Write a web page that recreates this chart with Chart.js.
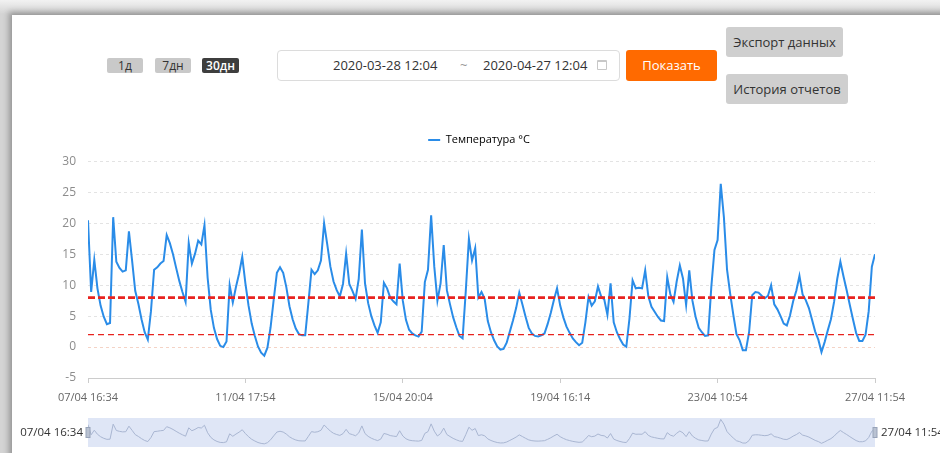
<!doctype html>
<html>
<head>
<meta charset="utf-8">
<title>Температура</title>
<script src="https://cdn.jsdelivr.net/npm/chart.js@4.4.1/dist/chart.umd.min.js"></script>
<style>
	html, body { margin: 0; padding: 0; }
	body {
		width: 940px; height: 453px; overflow: hidden; position: relative;
		background: linear-gradient(to bottom, #f2f2f2 0, #d4d4d4 14px);
		font-family: "Open Sans", "Noto Sans", sans-serif;
	}
	.panel {
		position: absolute; left: 12px; top: 15px; width: 960px; height: 460px;
		background: #fff; box-shadow: -3px -3px 6px rgba(0, 0, 0, 0.3);
	}
	.abs { position: absolute; box-sizing: border-box; }
	.tag {
		top: 58px; height: 15px; line-height: 15px; font-size: 12px; text-align: center;
		background: #c9c9c9; color: #333; border-radius: 2px;
	}
	.tag.on { background: #3e3e3e; color: #fff; font-weight: 600; }
	.range {
		left: 277px; top: 50px; width: 343px; height: 31px;
		border: 1px solid #dcdcdc; border-radius: 4px; background: #fff;
	}
	.dt { top: 56px; font-size: 13px; line-height: 18px; color: #333; }
	.btn {
		height: 31px; line-height: 30px; font-size: 13px; text-align: center; border-radius: 3px;
	}
	.gray { background: #cfcfcf; color: #333; }
	.cal {
		left: 597px; top: 60px; width: 10px; height: 10px;
		border: 1px solid #c8c8c8; border-top-width: 2px; border-radius: 1px;
	}
</style>
</head>
<body>
	<div class="panel"></div>

	<div class="abs tag" style="left:107px;width:36px">1д</div>
	<div class="abs tag" style="left:155px;width:36px">7дн</div>
	<div class="abs tag on" style="left:202px;width:37px">30дн</div>

	<div class="abs range"></div>
	<div class="abs dt" style="left:333px">2020-03-28 12:04</div>
	<div class="abs dt" style="left:460px;color:#999">~</div>
	<div class="abs dt" style="left:483px">2020-04-27 12:04</div>
	<div class="abs cal"></div>

	<div class="abs btn" style="left:626px;top:50px;width:91px;background:#ff6a00;color:#fff">Показать</div>
	<div class="abs btn gray" style="left:726px;top:27px;width:117px;height:30px">Экспорт данных</div>
	<div class="abs btn gray" style="left:726px;top:74px;width:122px;height:30px">История отчетов</div>

	<canvas id="chart" class="abs" width="940" height="290" style="left:0;top:120px"></canvas>
	<canvas id="zoom" class="abs" width="940" height="41" style="left:0;top:412px"></canvas>

	<script>
		// temperature readings, evenly spaced samples
		const temps = [
			20.5, 8.9, 14.1, 9.5, 6.7, 4.9, 3.7, 3.9, 21.0, 13.8,
			12.8, 12.2, 12.4, 18.7, 14.0, 9.1, 7.0, 4.5, 2.4, 1.2,
			5.8, 12.5, 12.9, 13.5, 13.9, 18.1, 16.8, 15.0, 12.8, 10.7,
			8.9, 7.3, 16.8, 13.5, 15.1, 17.2, 16.6, 19.7, 11.2, 6.0,
			3.1, 1.3, 0.2, 0.0, 0.9, 10.0, 7.2, 9.7, 11.9, 14.6,
			10.3, 6.7, 3.8, 1.8, 0.1, -0.9, -1.4, -0.1, 3.2, 7.7,
			12.0, 12.9, 12.0, 9.7, 6.6, 4.5, 3.0, 2.1, 1.9, 1.9,
			7.1, 12.5, 11.8, 12.4, 14.0, 20.0, 16.6, 13.0, 10.6, 9.2,
			8.2, 10.2, 15.1, 10.2, 9.1, 7.8, 11.0, 19.0, 10.3, 7.1,
			5.0, 3.5, 2.3, 4.0, 10.4, 9.5, 8.0, 7.4, 6.9, 13.5,
			7.5, 4.4, 2.8, 2.2, 1.9, 1.7, 2.5, 10.5, 12.5, 21.3,
			13.0, 7.5, 10.3, 16.5, 9.2, 6.9, 4.8, 3.2, 1.8, 1.4,
			9.0, 17.5, 14.0, 16.0, 8.0, 8.9, 7.8, 4.2, 2.4, 1.1,
			0.1, -0.4, -0.3, 0.7, 2.5, 4.3, 6.3, 8.8, 6.9, 4.9,
			3.1, 2.2, 1.8, 1.7, 1.9, 2.2, 3.7, 5.5, 7.6, 9.5,
			6.7, 4.8, 3.3, 2.3, 1.4, 0.8, 0.3, 0.7, 4.0, 8.1,
			6.7, 7.4, 9.8, 8.2, 7.7, 5.2, 10.3, 4.0, 2.4, 1.3,
			0.4, 0.05, 4.6, 10.8, 9.5, 9.6, 9.5, 12.4, 8.2, 6.5,
			5.7, 4.9, 4.3, 4.2, 11.3, 8.5, 7.3, 10.6, 13.2, 11.1,
			6.8, 12.4, 7.5, 4.9, 3.1, 2.4, 1.8, 1.9, 9.7, 15.7,
			17.3, 26.4, 21.0, 12.5, 8.6, 5.2, 2.1, 1.1, -0.5, -0.5,
			2.4, 8.4, 8.9, 8.8, 8.3, 7.9, 8.3, 10.0, 6.9, 6.1,
			5.0, 3.8, 3.5, 5.1, 7.4, 9.1, 11.5, 8.5, 7.6, 6.3,
			4.4, 2.5, 1.2, -0.8, 0.8, 2.7, 4.5, 7.3, 11.0, 13.8,
			11.4, 9.2, 6.8, 4.5, 2.3, 1.0, 1.0, 2.0, 5.8, 13.0,
			15.0
		];
		const xLabels = ['07/04 16:34', '11/04 17:54', '15/04 20:04', '19/04 16:14', '23/04 10:54', '27/04 11:54'];
		const yTicks = [-5, 0, 5, 10, 15, 20, 25, 30];
		const upperLimit = 8;
		const lowerLimit = 2;
		const seriesName = 'Температура °C';

		const lastIdx = temps.length - 1;
		const labelStep = lastIdx / (xLabels.length - 1);
		const idx = temps.map((v, i) => i);
		const blue = '#2a8ce8';

		Chart.defaults.font.family = '"Open Sans", "Noto Sans", sans-serif';

		// empty axis used only as spacing
		const spacer = (axis, size) => ({
			position: axis === 'x' ? 'top' : 'right',
			display: true,
			grid: { display: false },
			border: { display: false },
			ticks: { display: false },
			afterFit: (scale) => {
				if (axis === 'x') scale.height = size;
				else scale.width = size;
			}
		});

		new Chart(document.getElementById('chart'), {
			type: 'line',
			data: {
				labels: idx,
				datasets: [{
					label: seriesName,
					data: temps,
					borderColor: blue,
					backgroundColor: blue,
					borderWidth: 2,
					pointRadius: 0,
					tension: 0,
					order: 1
				}, {
					label: 'max',
					data: temps.map(() => upperLimit),
					borderColor: '#e8231f',
					borderWidth: 2.6,
					borderDash: [7, 3],
					pointRadius: 0,
					order: 0
				}, {
					label: 'min',
					data: temps.map(() => lowerLimit),
					borderColor: '#e8231f',
					borderWidth: 1.3,
					borderDash: [6, 4],
					pointRadius: 0,
					order: 0
				}]
			},
			options: {
				responsive: false,
				animation: false,
				devicePixelRatio: 1,
				layout: { padding: { left: 58, right: 40, top: 9, bottom: 0 } },
				plugins: {
					tooltip: { enabled: false },
					legend: {
						position: 'top',
						labels: {
							color: '#8a8a8a',
							font: { size: 11 },
							padding: 5.5,
							boxWidth: 12,
							boxHeight: 2,
							generateLabels: () => [{
								text: seriesName,
								fillStyle: blue,
								strokeStyle: blue,
								lineWidth: 0,
								hidden: false,
								datasetIndex: 0
							}]
						}
					}
				},
				scales: {
					x: {
						type: 'linear',
						min: 0,
						max: lastIdx,
						afterFit: (scale) => { scale.height = 32; },
						afterBuildTicks: (scale) => {
							scale.ticks = xLabels.map((t, k) => ({ value: k * labelStep }));
						},
						border: { color: '#cccccc', width: 1 },
						grid: { drawOnChartArea: false, tickLength: 5, color: '#cccccc' },
						ticks: {
							color: '#666',
							font: { size: 11 },
							padding: 8,
							maxRotation: 0,
							autoSkip: false,
							callback: (v) => xLabels[Math.round(v / labelStep)]
						}
					},
					xTop: spacer('x', 6),
					y: {
						min: yTicks[0],
						max: yTicks[yTicks.length - 1],
						afterFit: (scale) => { scale.width = 30; },
						afterBuildTicks: (scale) => {
							scale.ticks = yTicks.map((v) => ({ value: v }));
						},
						border: { display: false, dash: [3, 3] },
						grid: {
							drawTicks: false,
							color: (ctx) => {
								if (ctx.tick.value === yTicks[0]) return 'rgba(0,0,0,0)';
								if (ctx.tick.value === 0) return '#f4d3c6';
								return '#e3e3e3';
							}
						},
						ticks: { color: '#8c8c8c', font: { size: 12 }, padding: 12 }
					},
					yRight: spacer('y', 25)
				}
			}
		});

		// data zoom strip under the chart
		const zoomDecor = {
			id: 'zoomDecor',
			beforeDatasetsDraw(chart) {
				const { ctx, chartArea: a } = chart;
				ctx.save();
				ctx.fillStyle = '#dfe6f6';
				ctx.fillRect(a.left, a.top, a.right - a.left, a.bottom - a.top);
				ctx.restore();
			},
			afterDatasetsDraw(chart) {
				const { ctx, chartArea: a } = chart;
				const mid = (a.top + a.bottom) / 2;
				ctx.save();
				ctx.fillStyle = '#b9c2d2';
				ctx.strokeStyle = '#98a3b8';
				[a.left, a.right].forEach((x) => {
					ctx.fillRect(x - 2, mid - 5, 4, 10);
					ctx.strokeRect(x - 2, mid - 5, 4, 10);
				});
				ctx.fillStyle = '#333';
				ctx.font = '11.5px "Open Sans", "Noto Sans", sans-serif';
				ctx.textBaseline = 'middle';
				ctx.textAlign = 'right';
				ctx.fillText(xLabels[0], a.left - 5, mid);
				ctx.textAlign = 'left';
				ctx.fillText(xLabels[xLabels.length - 1], a.right + 6, mid);
				ctx.restore();
			}
		};

		new Chart(document.getElementById('zoom'), {
			type: 'line',
			data: {
				labels: idx,
				datasets: [{
					data: temps,
					borderColor: '#a9b6d2',
					borderWidth: 1,
					pointRadius: 0,
					tension: 0
				}]
			},
			options: {
				responsive: false,
				animation: false,
				devicePixelRatio: 1,
				layout: { padding: { left: 88, right: 65, top: 6, bottom: 6 } },
				plugins: { legend: { display: false }, tooltip: { enabled: false } },
				scales: {
					x: { type: 'linear', display: false, min: 0, max: lastIdx },
					y: { display: false, min: -5, max: 28 }
				}
			},
			plugins: [zoomDecor]
		});
	</script>
</body>
</html>
